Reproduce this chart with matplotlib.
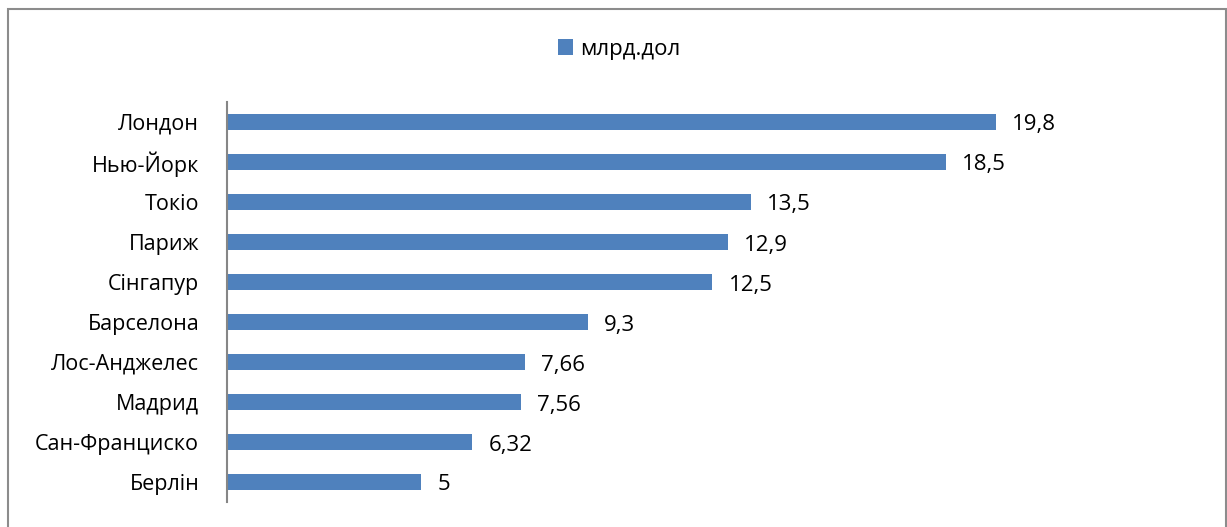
import matplotlib.pyplot as plt
from matplotlib.patches import Rectangle

cities = ["Лондон", "Нью-Йорк", "Токіо", "Париж", "Сінгапур",
          "Барселона", "Лос-Анджелес", "Мадрид", "Сан-Франциско", "Берлін"]
values = [19.8, 18.5, 13.5, 12.9, 12.5, 9.3, 7.66, 7.56, 6.32, 5]
value_labels = ["19,8", "18,5", "13,5", "12,9", "12,5", "9,3", "7,66", "7,56", "6,32", "5"]
series_name = "млрд.дол"

bar_color = "#4F81BD"
plt.rcParams['font.family'] = ['Open Sans', 'DejaVu Sans']

W, H = 1227, 527
fig = plt.figure(figsize=(W / 100, H / 100), dpi=100)

# outer chart border
fig.patches.append(Rectangle((8 / W, -0.05), (1226 - 8) / W, 1.05 - 9 / H,
                             transform=fig.transFigure, fill=False,
                             edgecolor="#8c8c8c", linewidth=1.5))

ax = fig.add_axes([227 / W, 25 / H, (1150 - 227) / W, 400 / H])
pos = list(range(len(cities)))
bars = ax.barh(pos, values, height=0.4, color=bar_color, label=series_name)
ax.set_ylim(len(cities) - 0.5, -0.5)
ax.set_xlim(0, (1150 - 227) / ((996 - 227) / 19.8))

for b, txt in zip(bars, value_labels):
    ax.annotate(txt, (b.get_width(), b.get_y() + b.get_height() / 2),
                xytext=(16, -3), textcoords="offset pixels",
                va="center", ha="left", fontsize=16, color="black")

ax.set_yticks(pos)
ax.set_yticklabels(cities, fontsize=15.5)
ax.tick_params(axis="y", length=0, pad=20)
ax.set_xticks([])
for side in ["top", "right", "bottom"]:
    ax.spines[side].set_visible(False)
ax.spines["left"].set_color("#868686")
ax.spines["left"].set_linewidth(1.5)

fig.legend(handles=[bars], labels=[series_name], loc="center",
           bbox_to_anchor=(619 / W, 1 - 49 / H), frameon=False, fontsize=16,
           handlelength=0.7, handleheight=0.7, handletextpad=0.3)

fig.savefig("out.png", dpi=100)
